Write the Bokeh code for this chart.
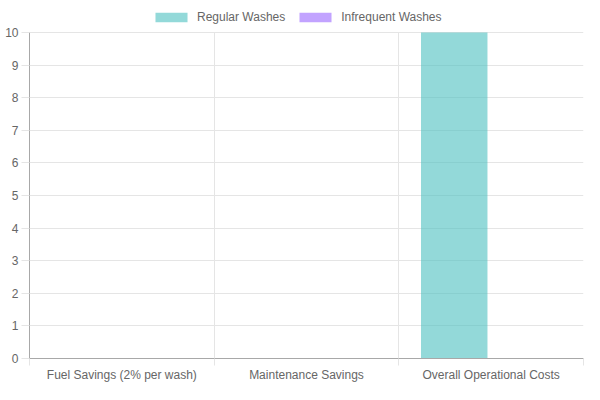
from bokeh.plotting import figure
from bokeh.models import FixedTicker, Range1d, Legend, LegendItem, ColumnDataSource
from bokeh.embed import file_html
from bokeh.resources import INLINE

categories = ["Fuel Savings (2% per wash)", "Maintenance Savings", "Overall Operational Costs"]
regular_washes = [0, 0, 10]
infrequent_washes = [0, 0, 0]
y_ticks = [0, 1, 2, 3, 4, 5, 6, 7, 8, 9, 10]
y_max = 10

FONT = "Liberation Sans"
TXT = "#666666"
GRID = "#e5e5e5"
AXIS = "#a8a8a8"

n = len(categories)
centers = [i + 0.5 for i in range(n)]

# layout (pixels)
TOP_BORDER, LEFT_BORDER, BOTTOM_PANEL = 2, 29, 26
FRAME_W, FRAME_H = 554, 356
PLOT_TOP = 32  # pixel row of the y_max gridline
px_per_unit = (TOP_BORDER + FRAME_H - PLOT_TOP) / y_max
y_end = y_max + (PLOT_TOP - TOP_BORDER) / px_per_unit

p = figure(frame_width=FRAME_W, frame_height=FRAME_H, output_backend="svg", toolbar_location=None,
           x_range=Range1d(0, n), y_range=Range1d(0, y_end),
           min_border_left=LEFT_BORDER, min_border_right=1, min_border_top=TOP_BORDER,
           min_border_bottom=BOTTOM_PANEL)
p.outline_line_color = None
p.background_fill_color = "white"
p.border_fill_color = "white"

src_r = ColumnDataSource(dict(x=[c - 0.2 for c in centers], top=regular_washes))
src_i = ColumnDataSource(dict(x=[c + 0.2 for c in centers], top=infrequent_washes))
r1 = p.vbar(x="x", top="top", bottom=0, width=0.36, source=src_r,
            fill_color="rgb(75,192,192)", fill_alpha=0.6, line_color=None)
r2 = p.vbar(x="x", top="top", bottom=0, width=0.36, source=src_i,
            fill_color="rgb(153,102,255)", fill_alpha=0.6, line_color=None)

# x axis
xt = FixedTicker(ticks=centers, minor_ticks=[float(i) for i in range(n + 1)])
p.xaxis.ticker = xt
p.xaxis.major_label_overrides = {c: lab for c, lab in zip(centers, categories)}
p.xaxis.major_tick_line_color = None
p.xaxis.major_tick_out = 0
p.xaxis.major_tick_in = 0
p.xaxis.minor_tick_in = 0
p.xaxis.minor_tick_out = 7
p.xaxis.minor_tick_line_color = GRID
p.xaxis.axis_line_color = AXIS
p.xaxis.major_label_standoff = 2
p.xaxis.major_label_text_font = FONT
p.xaxis.major_label_text_font_size = "12px"
p.xaxis.major_label_text_color = TXT
p.xgrid.ticker = FixedTicker(ticks=[float(i) for i in range(n + 1)])
p.xgrid.grid_line_color = GRID
p.xgrid.cross_bounds = (0, y_max)

# y axis
p.yaxis.ticker = FixedTicker(ticks=y_ticks)
p.yaxis.bounds = (0, y_max)
p.yaxis.major_tick_in = 0
p.yaxis.major_tick_out = 8
p.yaxis.major_tick_line_color = GRID
p.yaxis.minor_tick_line_color = None
p.yaxis.axis_line_color = AXIS
p.yaxis.major_label_standoff = 3
p.yaxis.major_label_text_font = FONT
p.yaxis.major_label_text_font_size = "12px"
p.yaxis.major_label_text_color = TXT
p.ygrid.grid_line_color = GRID

legend = Legend(items=[LegendItem(label="Regular Washes", renderers=[r1]),
                       LegendItem(label="Infrequent Washes", renderers=[r2])],
                orientation="horizontal", location=(122, 334),
                glyph_width=40, glyph_height=12, label_text_font=FONT,
                label_text_font_size="12px", label_text_color=TXT,
                label_standoff=6, spacing=10, padding=4, margin=0,
                border_line_color=None, background_fill_alpha=0)
p.add_layout(legend, "center")

open("out.html", "w").write(file_html(p, INLINE))
